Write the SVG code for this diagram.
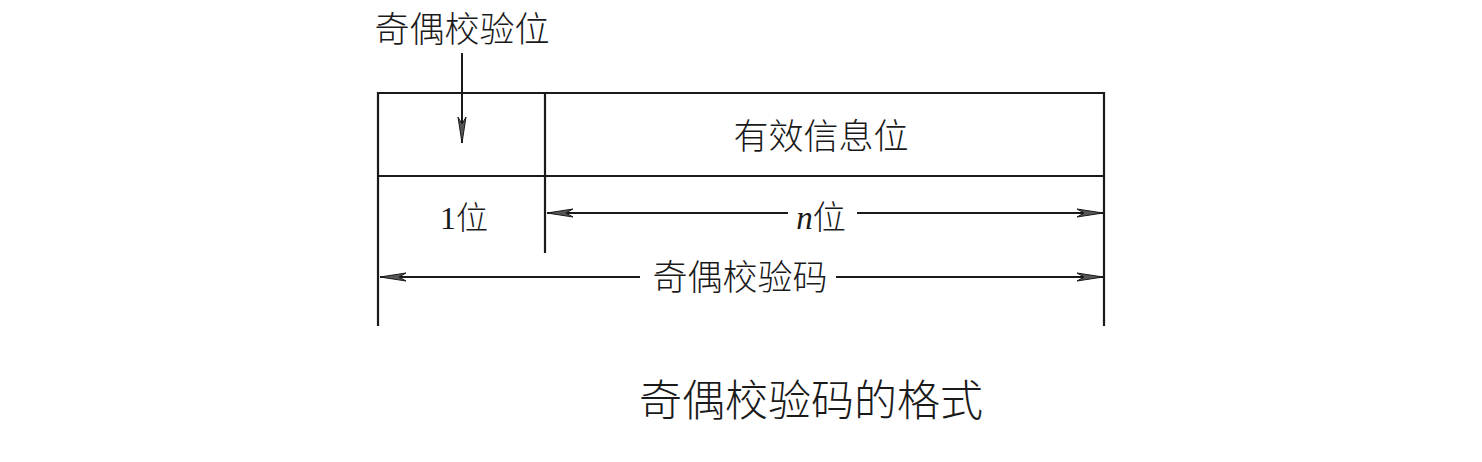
<svg xmlns="http://www.w3.org/2000/svg" width="1482" height="462" viewBox="0 0 1482 462">
<style>
.ln{stroke:#1a1a1a;stroke-width:2.2;fill:none}
.ar{stroke:#1a1a1a;stroke-width:2;fill:none}
.t{font-family:"Noto Sans CJK SC","Liberation Serif",serif;fill:#1a1a1a;font-weight:300}
.s{font-family:"Liberation Serif","Noto Sans CJK SC",serif;fill:#1a1a1a}
</style>
<defs>
<marker id="ah" viewBox="0 0 26 10" refX="26" refY="5" markerWidth="26" markerHeight="10" markerUnits="userSpaceOnUse" orient="auto">
<path d="M0,1 L26,5 L0,9 L7,5 Z" fill="#555" stroke="#1a1a1a" stroke-width="1"/>
</marker>
</defs>
<rect width="1482" height="462" fill="#fff"/>
<g id="frame">
<line class="ln" x1="378" y1="93" x2="1104" y2="93"/>
<line class="ln" x1="378" y1="176" x2="1104" y2="176"/>
<line class="ln" x1="378" y1="92" x2="378" y2="326"/>
<line class="ln" x1="1104" y1="92" x2="1104" y2="326"/>
<line class="ln" x1="545" y1="92" x2="545" y2="253"/>
</g>
<g id="parity-label">
<text class="t" x="462" y="42" font-size="35" text-anchor="middle">奇偶校验位</text>
</g>
<g id="info-bits">
<text class="t" x="821" y="149" font-size="35" text-anchor="middle">有效信息位</text>
</g>
<g id="one-bit">
<text class="s" x="464" y="229" font-size="32" text-anchor="middle">1<tspan font-family="Noto Sans CJK SC" font-weight="300">位</tspan></text>
</g>
<g id="n-bits">
<text class="s" x="821" y="229" font-size="33" text-anchor="middle"><tspan font-style="italic">n</tspan><tspan font-family="Noto Sans CJK SC" font-weight="300">位</tspan></text>
</g>
<g id="code-label">
<text class="t" x="740" y="290" font-size="35" text-anchor="middle">奇偶校验码</text>
</g>
<g id="caption">
<text class="t" x="811" y="416" font-size="43" text-anchor="middle">奇偶校验码的格式</text>
</g>
<g id="connectors">
<line class="ar" x1="462" y1="53" x2="462" y2="143" marker-end="url(#ah)"/>
<line class="ar" x1="788" y1="213" x2="547" y2="213" marker-end="url(#ah)"/>
<line class="ar" x1="857" y1="213" x2="1103" y2="213" marker-end="url(#ah)"/>
<line class="ar" x1="640" y1="277" x2="380" y2="277" marker-end="url(#ah)"/>
<line class="ar" x1="836" y1="277" x2="1103" y2="277" marker-end="url(#ah)"/>
</g>
</svg>
